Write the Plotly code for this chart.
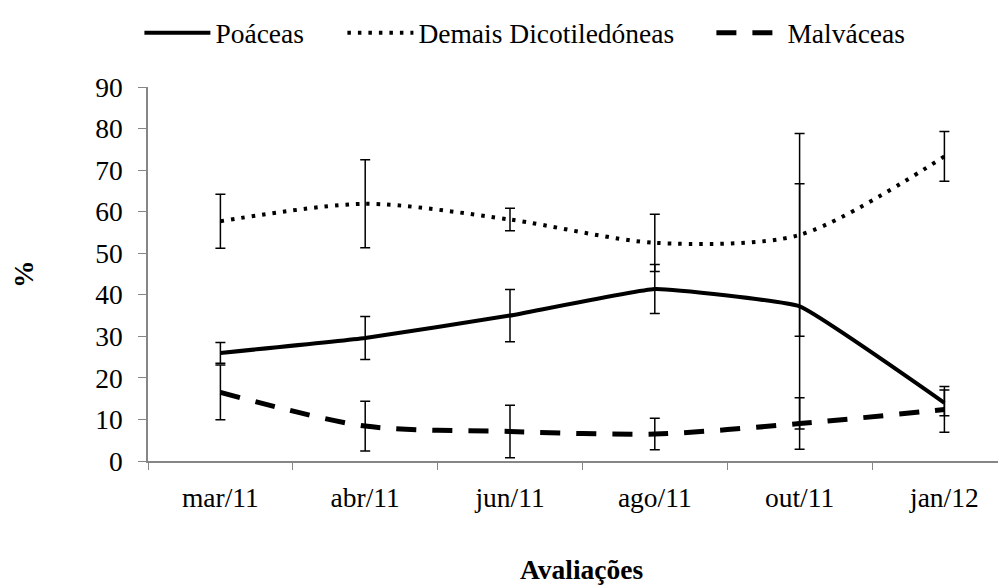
import plotly.graph_objects as go

categories = ["mar/11", "abr/11", "jun/11", "ago/11", "out/11", "jan/12"]

poaceas = [26.0, 29.6, 35.0, 41.4, 37.2, 14.0]
poaceas_err = [2.5, 5.2, 6.3, 5.9, 29.5, 3.1]

dicot = [57.7, 61.9, 58.1, 52.5, 54.4, 73.3]
dicot_err = [6.5, 10.6, 2.7, 6.9, 24.4, 6.0]

malv = [16.5, 8.4, 7.1, 6.5, 9.0, 12.4]
malv_err = [6.6, 6.0, 6.3, 3.8, 6.2, 5.5]

y_ticks = [0, 10, 20, 30, 40, 50, 60, 70, 80, 90]

FONT = "Liberation Serif, Times New Roman, serif"
FS = 27.5
AXIS_GRAY = "#868686"

# figure is drawn inside the page body (8px default margin)
W, H = 998, 578
ML, MT, MB = 140, 72, 125
PW = W - ML
PH = H - MT - MB


def err(vals):
    return dict(type="data", array=vals, visible=True, color="black",
                thickness=1.5, width=5)


def px_x(x):
    return (x - ML) / PW


fig = go.Figure()
fig.add_trace(go.Scatter(
    x=categories, y=poaceas, name="Poáceas", mode="lines", legend="legend",
    line=dict(color="black", width=4, shape="spline", smoothing=0.3),
    error_y=err(poaceas_err)))
fig.add_trace(go.Scatter(
    x=categories, y=dicot, name="Demais Dicotiledóneas", mode="lines", legend="legend2",
    line=dict(color="black", width=4, dash="3.5px,7px", shape="spline", smoothing=0.8),
    error_y=err(dicot_err)))
fig.add_trace(go.Scatter(
    x=categories, y=malv, name="Malváceas", mode="lines", legend="legend3",
    line=dict(color="black", width=5, dash="20px,16px", shape="spline", smoothing=0.8),
    error_y=err(malv_err)))

leg_common = dict(orientation="h", xanchor="left", y=1.145, yanchor="middle",
                  font=dict(family=FONT, size=FS, color="black"),
                  itemwidth=66, bgcolor="rgba(0,0,0,0)")

fig.update_layout(
    width=W, height=H,
    margin=dict(l=ML, r=0, t=MT, b=MB),
    paper_bgcolor="white", plot_bgcolor="white",
    font=dict(family=FONT, size=FS, color="black"),
    showlegend=True,
    legend=dict(x=px_x(131.4), **leg_common),
    legend2=dict(x=px_x(334.4), **leg_common),
    legend3=dict(x=px_x(703.4), **leg_common),
    xaxis=dict(
        type="category", categoryorder="array", categoryarray=categories,
        range=[-0.5, -0.5 + PW / 144.8],
        tickson="boundaries", ticks="outside", ticklen=7, tickcolor=AXIS_GRAY,
        tickwidth=1, showline=True, linecolor=AXIS_GRAY, linewidth=1.5,
        showgrid=False, zeroline=False, ticklabelstandoff=11,
        tickfont=dict(family=FONT, size=FS, color="black")),
    yaxis=dict(
        range=[0, 90], tickvals=y_ticks, ticks="outside", ticklen=8,
        tickcolor=AXIS_GRAY, tickwidth=1, showline=True, linecolor=AXIS_GRAY,
        linewidth=1.5, showgrid=False, zeroline=False, ticklabelstandoff=10,
        tickfont=dict(family=FONT, size=FS, color="black")),
    annotations=[
        dict(text="<b>%</b>", xref="paper", yref="paper",
             x=px_x(15), y=0.5, xanchor="center", yanchor="middle",
             textangle=-90, showarrow=False,
             font=dict(family=FONT, size=FS, color="black")),
        dict(text="<b>Avaliações</b>", xref="paper", yref="paper",
             x=px_x(574), y=(452.7 - 563.5) / PH,
             xanchor="center", yanchor="middle", showarrow=False,
             font=dict(family=FONT, size=FS, color="black")),
    ],
)

fig.write_html("out.html")
